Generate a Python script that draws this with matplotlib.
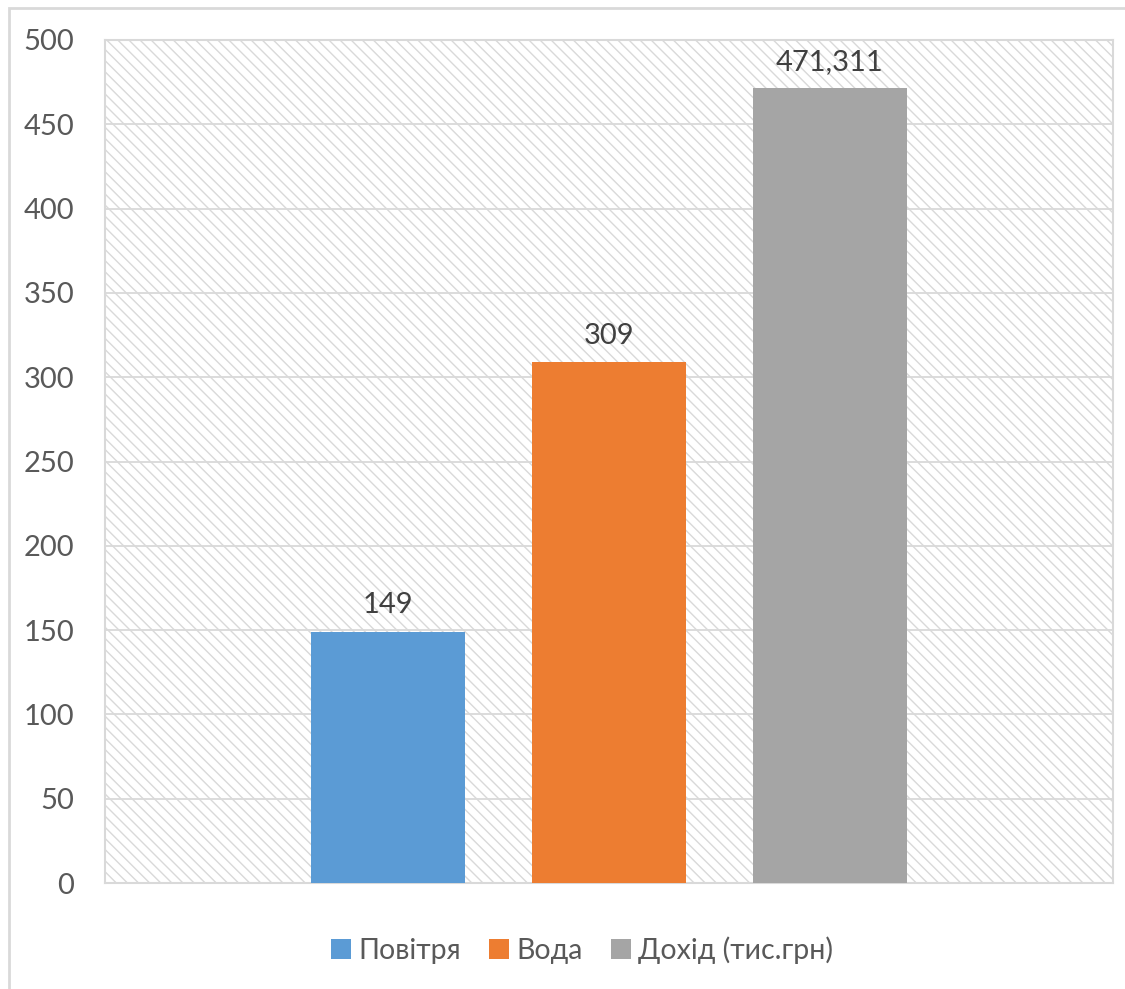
import matplotlib
matplotlib.use('Agg')
import matplotlib.pyplot as plt
from matplotlib.patches import Rectangle

series = ['Повітря', 'Вода', 'Дохід (тис.грн)']
values = [149, 309, 471.311]
value_labels = ['149', '309', '471,311']
colors = ['#5b9bd5', '#ed7d31', '#a5a5a5']
yticks = [0, 50, 100, 150, 200, 250, 300, 350, 400, 450, 500]

plt.rcParams['font.family'] = ['Lato', 'DejaVu Sans']
plt.rcParams['hatch.color'] = '#d9d9d9'
plt.rcParams['hatch.linewidth'] = 1.0

grid_c = '#d9d9d9'
text_c = '#595959'

fig = plt.figure(figsize=(11.25, 9.89), dpi=100)
# outer chart border (left and top edges visible)
fig.patches.append(Rectangle((8.5/1125, -0.1), 1.2, 1 - 7.5/989 + 0.1,
                             transform=fig.transFigure, fill=False,
                             edgecolor='#d9d9d9', linewidth=2))

ax = fig.add_axes([105/1125, 1 - 883/989, (1113 - 105)/1125, (883 - 40)/989])
ax.patch.set_facecolor('white')
ax.patch.set_hatch('\\\\\\')
ax.patch.set_edgecolor(grid_c)
ax.patch.set_linewidth(0)

offset = 0.219
width = 0.153
for i, (s, v, c, lab) in enumerate(zip(series, values, colors, value_labels)):
    x = (i - 1) * offset
    ax.bar(x, v, width=width, color=c, label=s, zorder=3)
    ax.text(x, v + 8, lab, ha='center', va='bottom', fontsize=21, color='#404040', zorder=4)

ax.set_xlim(-0.5, 0.5)
ax.set_ylim(0, 500)
ax.set_yticks(yticks)
ax.set_xticks([])
ax.yaxis.grid(True, color=grid_c, linewidth=1.3, zorder=1)
ax.set_axisbelow(True)
ax.tick_params(axis='y', length=0, pad=22, labelsize=21, labelcolor=text_c)
for sp in ax.spines.values():
    sp.set_color(grid_c)
    sp.set_linewidth(1.5)

leg = fig.legend(loc='center', bbox_to_anchor=(582/1125, 1 - 950/989), ncol=3,
                 frameon=False, fontsize=20.5, handlelength=0.7, handleheight=0.7,
                 handletextpad=0.25, columnspacing=1.0, labelcolor=text_c)

fig.savefig('out.png', dpi=100)
